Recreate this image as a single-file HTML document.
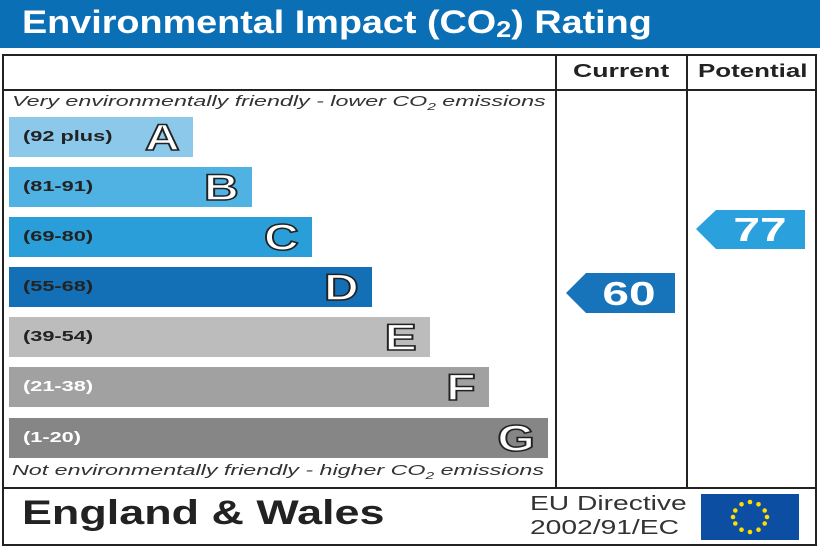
<!DOCTYPE html><html><head><style>
body{margin:0;width:820px;height:547px;background:#fff;font-family:"Liberation Sans",sans-serif;position:relative;overflow:hidden}
.a{position:absolute;white-space:nowrap}
.s{transform-origin:0 0}
.bar{position:absolute;left:9px;height:40px}
.bar .r{position:absolute;left:14px;top:11px;font-size:15px;font-weight:bold;color:#222;transform:scaleX(1.45);transform-origin:0 0;white-space:nowrap}
.bar .l{position:absolute;right:13px;top:0px;font-size:37px;font-weight:bold;color:#fff;-webkit-text-stroke:1.5px #222;transform:scaleX(1.3);transform-origin:100% 0}
.ln{position:absolute;background:#222}
.it{position:absolute;left:12px;font-size:15px;font-style:italic;color:#333;transform:scaleX(1.55);transform-origin:0 0;white-space:nowrap}
</style></head><body>
<div class="a" style="left:0;top:0;width:820px;height:48px;background:#0a6fb5"></div>
<div class="a s" style="left:22px;top:4px;font-size:32px;font-weight:bold;color:#fff;transform:scaleX(1.18)">Environmental Impact (CO<span style="font-size:23px;vertical-align:-4px">2</span>) Rating</div>
<div class="a" style="left:2px;top:54px;width:811px;height:488px;border:2px solid #222"></div>
<div class="ln" style="left:2px;top:89px;width:815px;height:2px"></div>
<div class="ln" style="left:2px;top:487px;width:815px;height:2px"></div>
<div class="ln" style="left:555px;top:54px;width:2px;height:434px"></div>
<div class="ln" style="left:686px;top:54px;width:2px;height:434px"></div>
<div class="a s" style="left:573px;top:61px;font-size:18px;font-weight:bold;color:#222;transform:scaleX(1.48)">Current</div>
<div class="a s" style="left:698px;top:61px;font-size:18px;font-weight:bold;color:#222;transform:scaleX(1.44)">Potential</div>
<div class="it" style="top:93px">Very environmentally friendly - lower CO<sub style="font-size:10px">2</sub> emissions</div>
<div class="it" style="top:462px">Not environmentally friendly - higher CO<sub style="font-size:10px">2</sub> emissions</div>
<div class="bar" style="top:117px;width:184px;background:#8cc8ea"><span class="r">(92 plus)</span><span class="l">A</span></div>
<div class="bar" style="top:167px;width:243px;background:#4fb2e2"><span class="r">(81-91)</span><span class="l">B</span></div>
<div class="bar" style="top:217px;width:303px;background:#2a9ed8"><span class="r">(69-80)</span><span class="l">C</span></div>
<div class="bar" style="top:267px;width:363px;background:#1470b6"><span class="r">(55-68)</span><span class="l">D</span></div>
<div class="bar" style="top:317px;width:421px;background:#bcbcbc"><span class="r">(39-54)</span><span class="l">E</span></div>
<div class="bar" style="top:367px;width:480px;background:#a1a1a1"><span class="r" style="color:#fff">(21-38)</span><span class="l">F</span></div>
<div class="bar" style="top:418px;width:539px;background:#868686"><span class="r" style="color:#fff">(1-20)</span><span class="l">G</span></div>
<svg class="a" style="left:566px;top:273px" width="110" height="40"><polygon points="0,20 20,0 109,0 109,40 20,40" fill="#1774bb"/><text x="63" y="32" font-size="33" font-weight="bold" fill="#fff" text-anchor="middle" font-family="Liberation Sans" transform="translate(63 0) scale(1.45 1) translate(-63 0)">60</text></svg>
<svg class="a" style="left:696px;top:210px" width="110" height="39"><polygon points="0,19 20,0 109,0 109,39 20,39" fill="#2aa0dc"/><text x="64" y="31" font-size="33" font-weight="bold" fill="#fff" text-anchor="middle" font-family="Liberation Sans" transform="translate(64 0) scale(1.45 1) translate(-64 0)">77</text></svg>
<div class="a s" style="left:22px;top:494px;font-size:34px;font-weight:bold;color:#222;transform:scaleX(1.32)">England &amp; Wales</div>
<div class="a s" style="left:530px;top:492px;font-size:20px;color:#333;line-height:24px;transform:scaleX(1.41)">EU Directive<br>2002/91/EC</div>
<svg class="a" style="left:701px;top:494px" width="98" height="46"><rect width="98" height="46" fill="#0b4ea2"/>
<g fill="#ffdd00">
<circle cx="49" cy="8" r="2.3"/><circle cx="57.5" cy="10.3" r="2.3"/><circle cx="63.7" cy="16.5" r="2.3"/><circle cx="66" cy="23" r="2.3"/><circle cx="63.7" cy="29.5" r="2.3"/><circle cx="57.5" cy="35.7" r="2.3"/><circle cx="49" cy="38" r="2.3"/><circle cx="40.5" cy="35.7" r="2.3"/><circle cx="34.3" cy="29.5" r="2.3"/><circle cx="32" cy="23" r="2.3"/><circle cx="34.3" cy="16.5" r="2.3"/><circle cx="40.5" cy="10.3" r="2.3"/></g></svg>
</body></html>
